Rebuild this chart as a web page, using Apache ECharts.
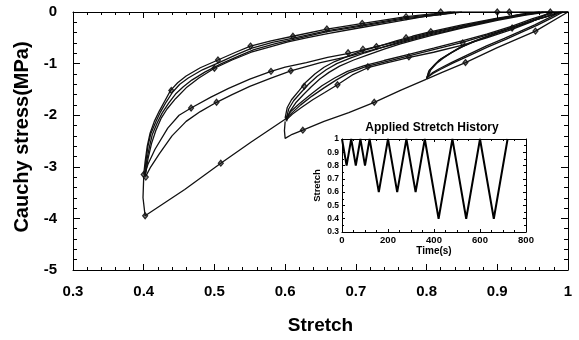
<!DOCTYPE html>
<html>
<head>
<meta charset="utf-8">
<script src="https://cdn.jsdelivr.net/npm/echarts@6/dist/echarts.min.js"></script>
<style>
  html, body { margin: 0; padding: 0; background: #fff; }
  #chart { width: 579px; height: 340px; background: #fff; }
</style>
</head>
<body>
<div id="chart"></div>
<script>
// ---- main chart: stretch vs Cauchy stress ----
const xTicks = [0.3, 0.4, 0.5, 0.6, 0.7, 0.8, 0.9, 1]
const yTicks = [0, -1, -2, -3, -4, -5]

// virgin loading path (with the relaxation drop at each new minimum)
const virginA = [[1, 0], [0.954, -0.37], [0.9, -0.69], [0.855, -0.98], [0.822, -1.17], [0.8, -1.3]]
const virginB = [[0.8, -1.3], [0.763, -1.52], [0.726, -1.75], [0.69, -1.95], [0.655, -2.12], [0.625, -2.29], [0.61, -2.37], [0.6, -2.45], [0.599, -2.3], [0.6, -2.12]]
const virginC = [[0.6, -2.08], [0.552, -2.52], [0.509, -2.93], [0.458, -3.44], [0.402, -3.95], [0.399, -3.6], [0.4, -3.2]]

// cycles down to 0.4: unloading branches
const unload04a = [[0.4, -3.15], [0.402, -2.9], [0.405, -2.6], [0.409, -2.35], [0.415, -2.12], [0.422, -1.92], [0.43, -1.72], [0.438, -1.52], [0.448, -1.37], [0.46, -1.24], [0.48, -1.08], [0.505, -0.93], [0.53, -0.78], [0.551, -0.66], [0.58, -0.56], [0.611, -0.47], [0.659, -0.33], [0.71, -0.22], [0.771, -0.09], [0.811, -0.03], [0.83, 0], [1, 0]]
const unload04b = [[0.401, -3.17], [0.403, -2.9], [0.406, -2.6], [0.41, -2.36], [0.417, -2.13], [0.424, -1.93], [0.432, -1.74], [0.441, -1.55], [0.451, -1.4], [0.463, -1.28], [0.483, -1.12], [0.508, -0.97], [0.532, -0.82], [0.553, -0.7], [0.582, -0.59], [0.613, -0.5], [0.66, -0.36], [0.71, -0.25], [0.771, -0.11], [0.815, -0.04], [0.835, 0]]
const unload04c = [[0.402, -3.2], [0.404, -2.9], [0.408, -2.62], [0.412, -2.38], [0.419, -2.15], [0.426, -1.96], [0.435, -1.77], [0.445, -1.59], [0.456, -1.45], [0.468, -1.32], [0.487, -1.16], [0.51, -1.0], [0.535, -0.85], [0.556, -0.73], [0.585, -0.62], [0.615, -0.52], [0.66, -0.38], [0.71, -0.27], [0.771, -0.13], [0.82, -0.05], [0.84, 0]]
const unload04d = [[0.403, -3.12], [0.406, -2.85], [0.411, -2.55], [0.417, -2.3], [0.425, -2.05], [0.433, -1.88], [0.445, -1.68], [0.46, -1.47], [0.478, -1.28], [0.5, -1.09], [0.525, -0.93], [0.552, -0.78], [0.58, -0.67], [0.604, -0.58], [0.63, -0.5], [0.66, -0.42], [0.7, -0.32], [0.75, -0.2], [0.8, -0.08], [0.85, 0]]
// cycles down to 0.4: reloading branches
const reload04a = [[1, 0], [0.965, 0], [0.94, -0.04], [0.9, -0.13], [0.85, -0.27], [0.8, -0.42], [0.757, -0.58], [0.72, -0.7], [0.69, -0.8], [0.66, -0.88], [0.63, -0.98], [0.6, -1.07], [0.58, -1.15], [0.55, -1.3], [0.52, -1.48], [0.495, -1.65], [0.467, -1.86], [0.45, -2.0], [0.434, -2.25], [0.416, -2.66], [0.406, -2.95], [0.401, -3.15]]
const reload04b = [[0.96, 0], [0.93, -0.05], [0.9, -0.15], [0.85, -0.3], [0.8, -0.46], [0.757, -0.62], [0.72, -0.75], [0.69, -0.86], [0.65, -0.98], [0.608, -1.14], [0.58, -1.28], [0.55, -1.44], [0.525, -1.6], [0.503, -1.75], [0.48, -1.93], [0.46, -2.12], [0.44, -2.4], [0.422, -2.75], [0.41, -3.0], [0.403, -3.18]]

// cycles down to 0.6
const unload06a = [[0.6, -2.05], [0.603, -1.85], [0.609, -1.7], [0.62, -1.52], [0.63, -1.35], [0.642, -1.2], [0.655, -1.07], [0.67, -0.96], [0.69, -0.85], [0.71, -0.75], [0.733, -0.66], [0.757, -0.56], [0.78, -0.47], [0.8, -0.4], [0.85, -0.25], [0.9, -0.12], [0.94, -0.03], [0.96, 0]]
const unload06b = [[0.601, -2.1], [0.605, -1.88], [0.612, -1.72], [0.623, -1.55], [0.633, -1.4], [0.645, -1.25], [0.658, -1.12], [0.673, -1.0], [0.693, -0.89], [0.713, -0.79], [0.736, -0.69], [0.76, -0.59], [0.783, -0.5], [0.803, -0.43], [0.85, -0.28], [0.9, -0.14], [0.94, -0.05], [0.965, 0]]
const unload06c = [[0.602, -2.12], [0.607, -1.92], [0.615, -1.76], [0.626, -1.6], [0.637, -1.45], [0.649, -1.3], [0.662, -1.17], [0.677, -1.05], [0.697, -0.93], [0.717, -0.83], [0.74, -0.72], [0.763, -0.62], [0.786, -0.53], [0.806, -0.46], [0.85, -0.31], [0.9, -0.16], [0.94, -0.06], [0.97, 0]]
const reload06a = [[1, 0], [0.977, -0.02], [0.95, -0.15], [0.921, -0.3], [0.885, -0.45], [0.851, -0.59], [0.81, -0.73], [0.775, -0.85], [0.74, -0.97], [0.714, -1.06], [0.69, -1.18], [0.672, -1.32], [0.655, -1.47], [0.638, -1.63], [0.622, -1.8], [0.61, -1.95], [0.6, -2.08]]
const reload06b = [[0.975, 0], [0.95, -0.18], [0.92, -0.34], [0.885, -0.5], [0.851, -0.64], [0.81, -0.78], [0.776, -0.88], [0.745, -0.98], [0.717, -1.08], [0.695, -1.22], [0.674, -1.41], [0.656, -1.56], [0.639, -1.7], [0.623, -1.85], [0.61, -1.98], [0.601, -2.1]]
const reload06c = [[0.98, 0], [0.95, -0.13], [0.92, -0.28], [0.885, -0.43], [0.85, -0.56], [0.81, -0.7], [0.775, -0.82], [0.74, -0.94], [0.712, -1.04], [0.688, -1.15], [0.67, -1.28], [0.652, -1.43], [0.636, -1.6], [0.62, -1.78], [0.608, -1.93], [0.6, -2.06]]

// cycles down to 0.8
const unload08a = [[0.8, -1.3], [0.803, -1.15], [0.811, -1.03], [0.818, -0.93], [0.83, -0.83], [0.846, -0.7], [0.865, -0.58], [0.884, -0.48], [0.905, -0.38], [0.931, -0.26], [0.955, -0.15], [0.977, -0.06], [0.988, 0]]
const unload08b = [[0.8, -1.29], [0.804, -1.13], [0.812, -1.01], [0.82, -0.91], [0.832, -0.81], [0.848, -0.68], [0.867, -0.57], [0.886, -0.47], [0.907, -0.37], [0.933, -0.25], [0.957, -0.14], [0.979, -0.05], [0.99, 0]]
const unload08c = [[0.801, -1.28], [0.806, -1.12], [0.814, -1.0], [0.823, -0.9], [0.835, -0.79], [0.851, -0.67], [0.87, -0.56], [0.89, -0.46], [0.91, -0.36], [0.936, -0.24], [0.96, -0.13], [0.981, -0.04], [0.993, 0]]
const reload08a = [[0.99, 0], [0.975, -0.1], [0.953, -0.25], [0.93, -0.39], [0.91, -0.51], [0.884, -0.66], [0.855, -0.85], [0.835, -0.98], [0.818, -1.1], [0.808, -1.18], [0.8, -1.27]]
const reload08b = [[0.993, 0], [0.978, -0.11], [0.956, -0.26], [0.933, -0.4], [0.912, -0.53], [0.886, -0.68], [0.858, -0.86], [0.837, -0.99], [0.82, -1.11], [0.809, -1.19], [0.801, -1.27]]

// diamond markers
const diamondPts = [
  [0.954, -0.37], [0.855, -0.98], [0.726, -1.75], [0.625, -2.29], [0.509, -2.93], [0.402, -3.95],
  [0.4, -3.15], [0.403, -3.2],
  [0.439, -1.52], [0.505, -0.93], [0.551, -0.66], [0.611, -0.47], [0.659, -0.33], [0.709, -0.22], [0.771, -0.09], [0.82, 0], [0.5, -1.09],
  [0.467, -1.86], [0.503, -1.75], [0.58, -1.15], [0.608, -1.14],
  [0.627, -1.44], [0.689, -0.79], [0.71, -0.72], [0.729, -0.67], [0.771, -0.5], [0.806, -0.38],
  [0.674, -1.41], [0.717, -1.06], [0.775, -0.87], [0.851, -0.6], [0.921, -0.31],
  [0.9, 0], [0.917, 0], [0.975, 0]
]

// ---- inset: applied stretch history ----
const histTime = [0, 20, 40, 60, 80, 100, 120, 160, 200, 240, 280, 320, 360, 420, 480, 540, 600, 660, 720]
const histStretch = [1, 0.8, 1, 0.8, 1, 0.8, 1, 0.6, 1, 0.6, 1, 0.6, 1, 0.4, 1, 0.4, 1, 0.4, 1]

const FONT = '"Liberation Sans", Arial, Helvetica, sans-serif'

const curves = [
  virginA, virginB, virginC,
  unload04a, unload04b, unload04c, unload04d, reload04a, reload04b,
  unload06a, unload06b, unload06c, reload06a, reload06b, reload06c,
  unload08a, unload08b, unload08c, reload08a, reload08b
]

// axis with inward ticks, used for all four sides of both frames
// (drawn above the series so the frame ticks stay on top)
function frameAxis(extra, tickLen, minorLen, minorSplit) {
  return Object.assign({
    type: 'value',
    z: 10,
    axisLine: { show: true, onZero: false, lineStyle: { color: '#000', width: 1 } },
    splitLine: { show: false },
    axisTick: { show: true, inside: true, length: tickLen, lineStyle: { color: '#000', width: 1 } },
    minorTick: { show: true, splitNumber: minorSplit, length: minorLen, lineStyle: { color: '#000', width: 1 } }
  }, extra)
}

const chart = echarts.init(document.getElementById('chart'))

const lineSeries = curves.map(c => ({
  type: 'line',
  xAxisIndex: 0,
  yAxisIndex: 0,
  data: c,
  showSymbol: false,
  symbol: 'none',
  lineStyle: { color: '#111', width: 1.3 }
}))

const option = {
  animation: false,
  graphic: [{
    type: 'text',
    x: 432,
    y: 128,
    silent: true,
    style: {
      text: 'Applied Stretch History',
      font: 'bold 12px "Liberation Sans", Arial, sans-serif',
      fill: '#000',
      align: 'center',
      verticalAlign: 'middle'
    }
  }],
  grid: [
    { left: 73, right: 11, top: 12, bottom: 70 },
    { left: 342, top: 139, width: 184, height: 93 }
  ],
  xAxis: [
    frameAxis({
      gridIndex: 0, min: 0.3, max: 1, interval: 0.1, position: 'bottom',
      axisLabel: {
        margin: 14, fontSize: 15, fontWeight: 'bold', color: '#000', fontFamily: FONT,
        formatter: v => {
          const t = xTicks.find(x => Math.abs(x - v) < 1e-6)
          return t === undefined ? '' : String(t)
        }
      },
      name: 'Stretch', nameLocation: 'middle', nameGap: 46,
      nameTextStyle: { fontSize: 19, fontWeight: 'bold', color: '#000', fontFamily: FONT }
    }, 6, 3, 5),
    frameAxis({ gridIndex: 0, min: 0.3, max: 1, interval: 0.1, position: 'top', axisLabel: { show: false } }, 6, 3, 5),
    frameAxis({
      gridIndex: 1, min: 0, max: 800, interval: 200, position: 'bottom',
      axisLabel: { margin: 3, fontSize: 9.5, fontWeight: 'bold', color: '#000', fontFamily: FONT },
      name: 'Time(s)', nameLocation: 'middle', nameGap: 13,
      nameTextStyle: { fontSize: 10, fontWeight: 'bold', color: '#000', fontFamily: FONT }
    }, 3, 2, 4),
    frameAxis({ gridIndex: 1, min: 0, max: 800, interval: 200, position: 'top', axisLabel: { show: false } }, 3, 2, 4)
  ],
  yAxis: [
    frameAxis({
      gridIndex: 0, min: -5, max: 0, interval: 1, position: 'left',
      axisLabel: {
        margin: 16, fontSize: 15, fontWeight: 'bold', color: '#000', fontFamily: FONT,
        formatter: v => {
          const t = yTicks.find(y => Math.abs(y - v) < 1e-6)
          return t === undefined ? '' : String(t)
        }
      },
      name: 'Cauchy stress(MPa)', nameLocation: 'middle', nameGap: 36,
      nameTextStyle: { fontSize: 20, fontWeight: 'bold', color: '#000', fontFamily: FONT, padding: [0, 0, 0, 8] }
    }, 7, 4, 5),
    frameAxis({ gridIndex: 0, min: -5, max: 0, interval: 1, position: 'right', axisLabel: { show: false } }, 7, 4, 5),
    frameAxis({
      gridIndex: 1, min: 0.3, max: 1, interval: 0.1, position: 'left',
      axisLabel: { margin: 3, fontSize: 8.5, fontWeight: 'bold', color: '#000', fontFamily: FONT },
      name: 'Stretch', nameLocation: 'middle', nameGap: 20,
      nameTextStyle: { fontSize: 9.5, fontWeight: 'bold', color: '#000', fontFamily: FONT }
    }, 3, 2, 2),
    frameAxis({ gridIndex: 1, min: 0.3, max: 1, interval: 0.1, position: 'right', axisLabel: { show: false } }, 3, 2, 2)
  ],
  series: lineSeries.concat([
    {
      type: 'scatter',
      xAxisIndex: 0,
      yAxisIndex: 0,
      data: diamondPts,
      symbol: 'diamond',
      symbolSize: [5, 6],
      itemStyle: { color: '#666', borderColor: '#000', borderWidth: 1.2 }
    },
    {
      type: 'line',
      xAxisIndex: 2,
      yAxisIndex: 2,
      data: histTime.map((t, i) => [t, histStretch[i]]),
      showSymbol: false,
      symbol: 'none',
      lineStyle: { color: '#000', width: 2 }
    }
  ])
}

chart.setOption(option)
</script>
</body>
</html>
